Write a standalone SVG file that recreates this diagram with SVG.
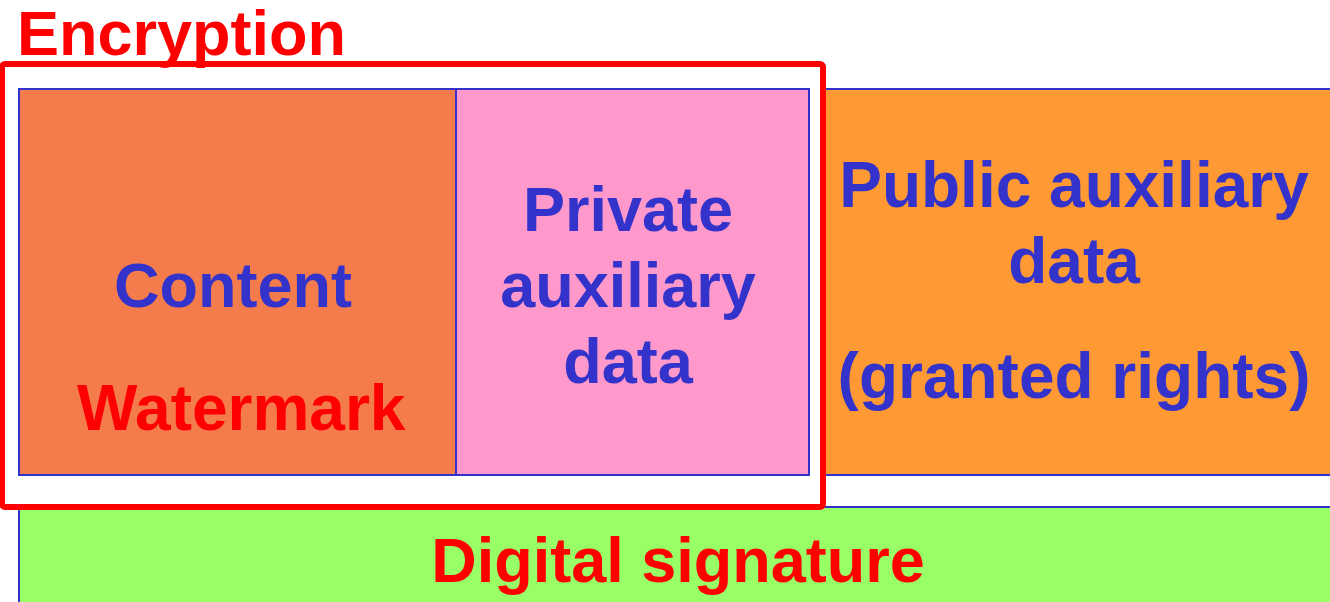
<svg xmlns="http://www.w3.org/2000/svg" width="1330" height="602" viewBox="0 0 1330 602">
<style>
.box{stroke:#3333CC;stroke-width:2}
.t{font-family:"Liberation Sans",Arial,sans-serif;font-weight:bold;font-size:63px}
.w{font-size:64px}
.blue{fill:#3333CC}
.red{fill:#FF0000}
.mid{text-anchor:middle}
</style>
<rect width="1330" height="602" fill="#FFFFFF"/>
<g id="public">
<rect class="box" x="822" y="89" width="520" height="386" fill="#FF9933"/>
<text class="t w blue mid" x="1074" y="207">Public auxiliary</text>
<text class="t w blue mid" x="1074" y="283">data</text>
<text class="t w blue mid" x="1074" y="398">(granted rights)</text>
</g>
<g id="content">
<rect class="box" x="19" y="89" width="437" height="386" fill="#F47C4C"/>
<text class="t blue" x="114" y="307">Content</text>
<text class="t w red" x="77" y="430">Watermark</text>
</g>
<g id="private">
<rect class="box" x="456" y="89" width="353" height="386" fill="#FF99CC"/>
<text class="t blue mid" x="628" y="231">Private</text>
<text class="t blue mid" x="628" y="307">auxiliary</text>
<text class="t blue mid" x="628" y="383">data</text>
</g>
<g id="signature">
<rect class="box" x="19" y="507" width="1330" height="120" fill="#99FF66"/>
<text class="t red mid" x="678" y="582">Digital signature</text>
</g>
<g id="encryption">
<rect x="2" y="64" width="821" height="443" rx="3" fill="none" stroke="#FF0000" stroke-width="6"/>
<text class="t red" x="17" y="55">Encryption</text>
</g>
<g id="connectors"/>
</svg>
